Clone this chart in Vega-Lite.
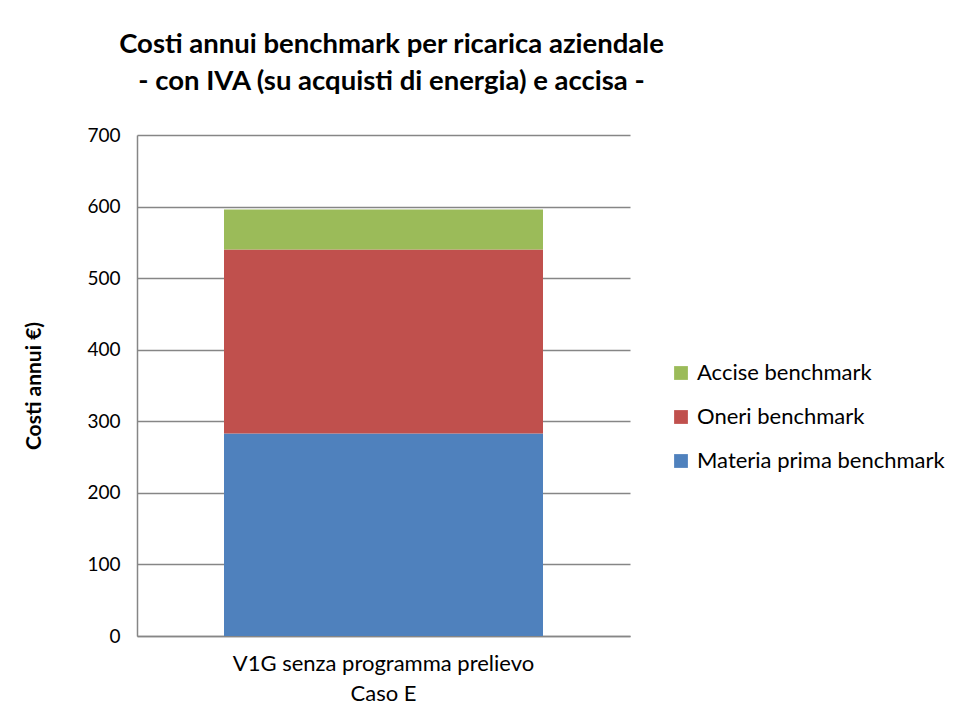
{
  "$schema": "https://vega.github.io/schema/vega-lite/v6.json",
  "autosize": "none",
  "width": 493,
  "height": 501,
  "padding": {"left": 137, "top": 135, "right": 329, "bottom": 84},
  "background": "white",
  "title": {
    "text": ["Costi annui benchmark per ricarica aziendale", "- con IVA (su acquisti di energia) e accisa -"],
    "font": "Lato",
    "fontSize": 27.5,
    "fontWeight": "bold",
    "color": "#000000",
    "lineHeight": 37,
    "anchor": "middle",
    "dx": 8,
    "offset": 31,
    "limit": 0
  },
  "data": {
    "values": [
      {"cat": "V1G senza programma prelievo|Caso E", "serie": "Materia prima benchmark", "valore": 283, "ord": 1},
      {"cat": "V1G senza programma prelievo|Caso E", "serie": "Oneri benchmark", "valore": 257, "ord": 2},
      {"cat": "V1G senza programma prelievo|Caso E", "serie": "Accise benchmark", "valore": 56, "ord": 3}
    ]
  },
  "mark": {"type": "bar", "size": 319},
  "encoding": {
    "x": {
      "field": "cat",
      "type": "nominal",
      "axis": {
        "title": null,
        "labelAngle": 0,
        "labelExpr": "split(datum.label, '|')",
        "labelFont": "Lato",
        "labelFontSize": 22,
        "labelColor": "#000000",
        "labelLineHeight": 30,
        "labelPadding": 17,
        "labelLimit": 0,
        "ticks": false,
        "domainColor": "#868686",
        "domainWidth": 1.5
      }
    },
    "y": {
      "field": "valore",
      "type": "quantitative",
      "stack": "zero",
      "scale": {"domain": [0, 700], "nice": false},
      "axis": {
        "title": "Costi annui €)",
        "titleFont": "Lato",
        "titleFontSize": 21,
        "titleFontWeight": "bold",
        "titleColor": "#000000",
        "titlePadding": 42,
        "values": [0, 100, 200, 300, 400, 500, 600, 700],
        "labelFont": "Lato",
        "labelFontSize": 19,
        "labelColor": "#000000",
        "labelPadding": 17,
        "ticks": false,
        "grid": true,
        "gridColor": "#868686",
        "gridWidth": 1.5,
        "domainColor": "#868686",
        "domainWidth": 1.5
      }
    },
    "color": {
      "field": "serie",
      "type": "nominal",
      "scale": {
        "domain": ["Accise benchmark", "Oneri benchmark", "Materia prima benchmark"],
        "range": ["#9BBB59", "#C0504D", "#4F81BD"]
      },
      "legend": {
        "title": null,
        "orient": "none",
        "legendX": 533,
        "legendY": 227,
        "symbolType": "square",
        "symbolSize": 190,
        "symbolStrokeWidth": 0,
        "labelFont": "Lato",
        "labelFontSize": 22,
        "labelColor": "#000000",
        "labelOffset": 5,
        "labelLimit": 0,
        "rowPadding": 22
      }
    },
    "order": {"field": "ord", "type": "quantitative"}
  },
  "config": {
    "view": {"stroke": null}
  }
}
